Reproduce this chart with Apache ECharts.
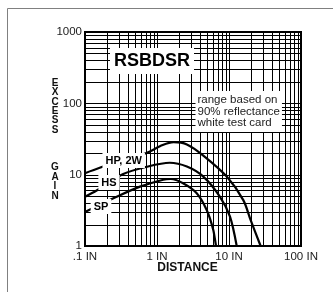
<!DOCTYPE html>
<html>
<head>
<meta charset="utf-8">
<script src="https://cdn.jsdelivr.net/npm/echarts@6/dist/echarts.min.js"></script>
<style>
  html, body { margin: 0; padding: 0; background: #fff; }
  #chart { width: 333px; height: 292px; }
</style>
</head>
<body>
<div id="chart"></div>
<script>
// axis ranges and tick labels
const xTickLabels = ['.1 IN', '1 IN', '10 IN', '100 IN'];
const yTickLabels = ['1', '10', '100', '1000'];
const xGridValues = [0.2, 0.3, 0.4, 0.5, 0.6, 0.7, 0.8, 0.9, 1, 2, 3, 4, 5, 6, 7, 8, 9, 10, 20, 30, 40, 50, 60, 70, 80, 90];
const yGridValues = [2, 3, 4, 5, 6, 7, 8, 9, 10, 20, 30, 40, 50, 60, 70, 80, 90, 100, 200, 300, 400, 500, 600, 700, 800, 900];

// curves (distance in inches, excess gain)
const hpDist = [0.1, 0.16, 0.3, 0.7, 1.2, 1.7, 2.6, 4.4, 9.3, 15.8, 20, 27.5];
const hpGain = [10.5, 12.5, 15.5, 20, 26, 28.5, 26.5, 18.5, 9.4, 4.4, 2.3, 1];
const hsDist = [0.1, 0.145, 0.34, 0.72, 1.5, 2.6, 4.4, 7.5, 10.3, 12.8];
const hsGain = [4.9, 6.0, 10.2, 12.9, 14.7, 13, 9.4, 4.9, 2.6, 1];
const spDist = [0.1, 0.275, 0.58, 1.22, 1.55, 2.3, 3.56, 4.9, 6.05, 6.6];
const spGain = [3.0, 4.9, 6.8, 8.5, 8.7, 7.6, 5.5, 3.2, 1.68, 1];

const X_MIN = 0.1, X_MAX = 100, Y_MIN = 1, Y_MAX = 1000;
const FONT = 'Arial, "Liberation Sans", sans-serif';

const pairs = (xs, ys) => xs.map((x, i) => [x, ys[i]]);

const chart = echarts.init(document.getElementById('chart'));

// grid lines snapped to whole pixels so they stay crisp
function vLine(params, api) {
  const v = api.value(0);
  const a = api.coord([v, Y_MIN]);
  const b = api.coord([v, Y_MAX]);
  const x = Math.round(a[0]) + 0.5;
  return { type: 'line', shape: { x1: x, y1: a[1], x2: x, y2: b[1] }, style: { stroke: '#000', lineWidth: 1 } };
}
function hLine(params, api) {
  const v = api.value(1);
  const a = api.coord([X_MIN, v]);
  const b = api.coord([X_MAX, v]);
  const y = Math.round(a[1]) + 0.5;
  return { type: 'line', shape: { x1: a[0], y1: y, x2: b[0], y2: y }, style: { stroke: '#000', lineWidth: 1 } };
}

const curve = (data) => ({
  type: 'line',
  data: data,
  smooth: 0.3,
  showSymbol: false,
  z: 5,
  lineStyle: { color: '#000', width: 2.2 }
});

const option = {
  animation: false,
  backgroundColor: '#fff',
  grid: {
    left: 85, right: 32, top: 32, bottom: 46,
    show: true, borderColor: '#000', borderWidth: 2, backgroundColor: 'transparent'
  },
  xAxis: {
    type: 'log', logBase: 10, min: X_MIN, max: X_MAX,
    axisLine: { show: false }, axisTick: { show: false }, splitLine: { show: false },
    axisLabel: {
      color: '#222', fontSize: 11.5, fontFamily: FONT, margin: 5,
      formatter: (v) => xTickLabels[Math.round(Math.log10(v)) + 1]
    }
  },
  yAxis: {
    type: 'log', logBase: 10, min: Y_MIN, max: Y_MAX,
    axisLine: { show: false }, axisTick: { show: false }, splitLine: { show: false },
    axisLabel: {
      color: '#222', fontSize: 11.5, fontFamily: FONT, margin: 3,
      formatter: (v) => yTickLabels[Math.round(Math.log10(v))]
    }
  },
  series: [
    { type: 'custom', renderItem: vLine, data: xGridValues.map(v => [v, Y_MIN]), z: 1, silent: true },
    { type: 'custom', renderItem: hLine, data: yGridValues.map(v => [X_MIN, v]), z: 1, silent: true },
    curve(pairs(hpDist, hpGain)),
    curve(pairs(hsDist, hsGain)),
    curve(pairs(spDist, spGain))
  ],
  graphic: [
    { type: 'rect', z: 0, shape: { x: 7.5, y: 8.5, width: 400, height: 400 },
      style: { fill: 'none', stroke: '#808080', lineWidth: 1 } },
    { type: 'text', z: 100, x: 152, y: 61,
      style: { text: 'RSBDSR', font: 'bold 18px ' + FONT, fill: '#000', align: 'center', verticalAlign: 'middle',
        backgroundColor: '#fff', padding: [4, 4] } },
    { type: 'text', z: 100, x: 195.5, y: 111.5,
      style: { text: 'range based on\n90% reflectance\nwhite test card', font: '11.5px ' + FONT, fill: '#222',
        lineHeight: 11.7, align: 'left', verticalAlign: 'middle', backgroundColor: '#fff', padding: [3, 2] } },
    { type: 'text', z: 100, x: 123.7, y: 160.5,
      style: { text: 'HP, 2W', font: 'bold 11px ' + FONT, fill: '#000', align: 'center', verticalAlign: 'middle',
        backgroundColor: '#fff', padding: [2, 3] } },
    { type: 'text', z: 100, x: 109, y: 182.5,
      style: { text: 'HS', font: 'bold 11px ' + FONT, fill: '#000', align: 'center', verticalAlign: 'middle',
        backgroundColor: '#fff', padding: [2, 3] } },
    { type: 'text', z: 100, x: 101, y: 206.5,
      style: { text: 'SP', font: 'bold 11px ' + FONT, fill: '#000', align: 'center', verticalAlign: 'middle',
        backgroundColor: '#fff', padding: [2, 3] } },
    { type: 'text', z: 100, x: 55, y: 139.5,
      style: { text: 'E\nX\nC\nE\nS\nS\n\n\n\nG\nA\nI\nN', font: 'bold 10px ' + FONT, fill: '#111',
        lineHeight: 9.4, align: 'center', verticalAlign: 'middle' } },
    { type: 'text', z: 100, x: 187.5, y: 267.5,
      style: { text: 'DISTANCE', font: 'bold 12px ' + FONT, fill: '#111', align: 'center', verticalAlign: 'middle' } }
  ]
};

chart.setOption(option);
</script>
</body>
</html>
